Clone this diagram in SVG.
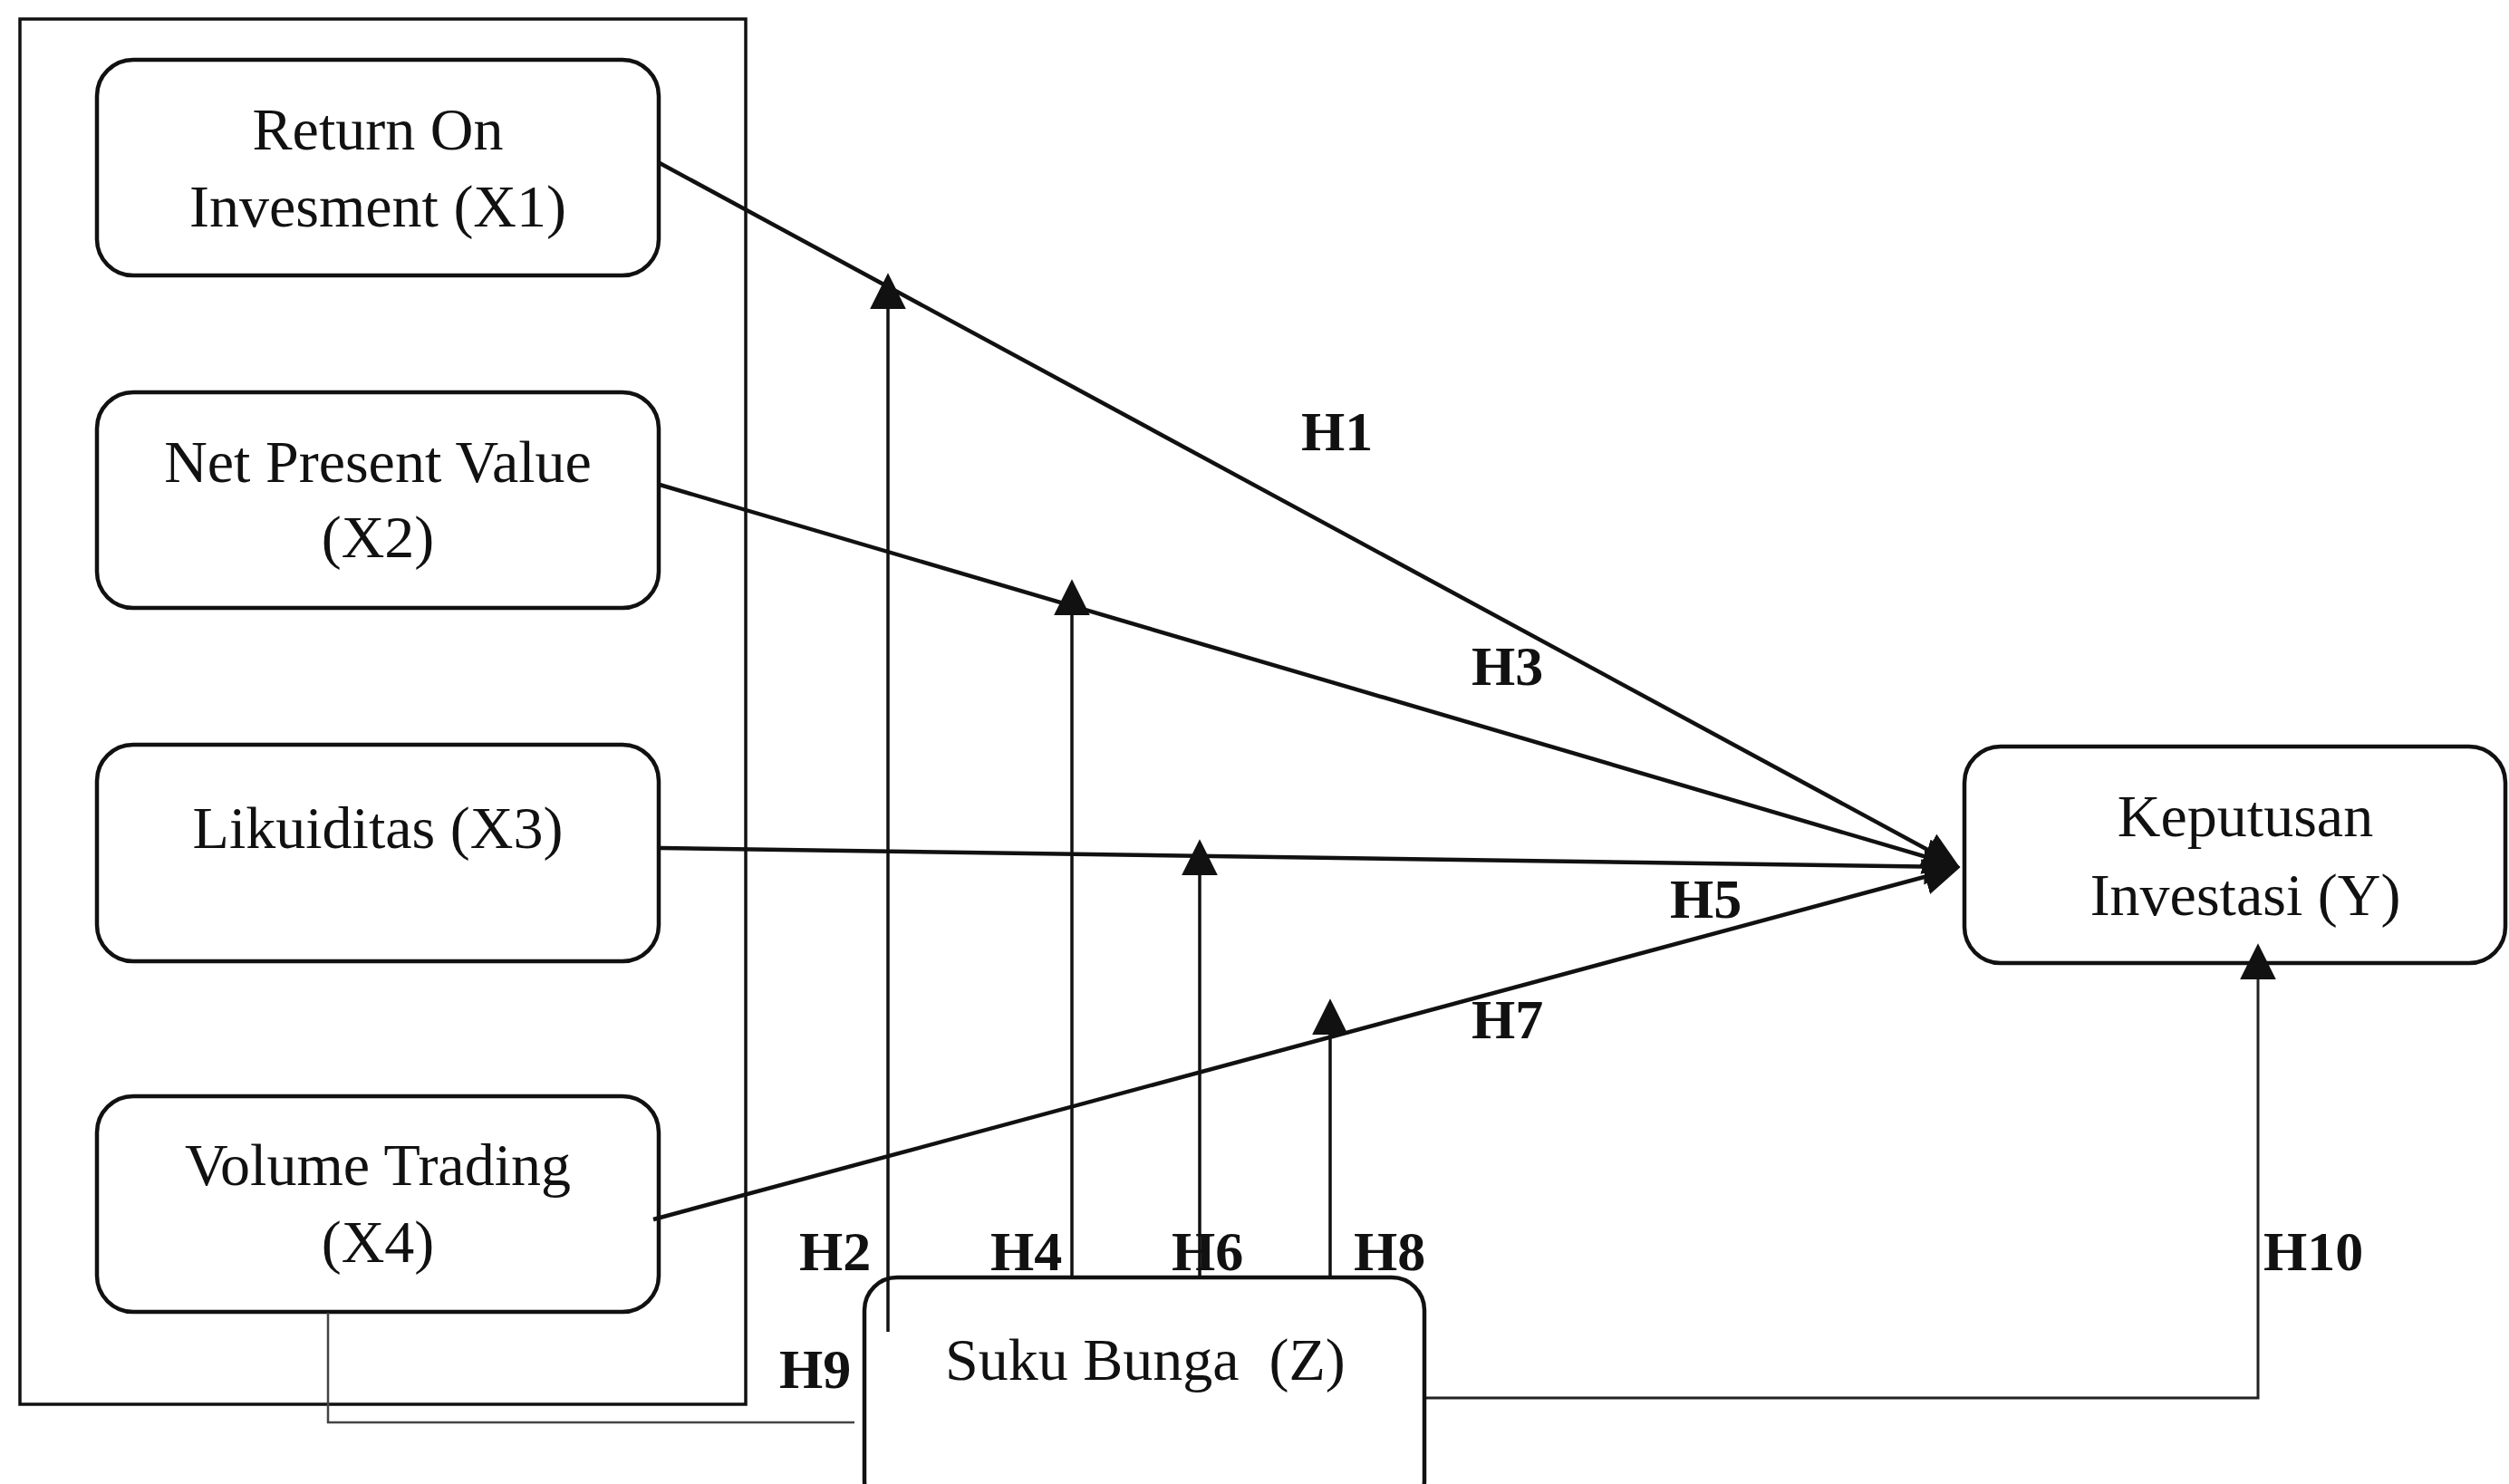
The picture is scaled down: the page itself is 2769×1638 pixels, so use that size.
<svg xmlns="http://www.w3.org/2000/svg" width="2769" height="1638" viewBox="0 0 2769 1638">
<style>
.box{fill:#fff;stroke:#111;stroke-width:4.5}
.frame{fill:none;stroke:#111;stroke-width:3.5}
.t{font-family:"Liberation Serif","Times New Roman",serif;font-size:66px;fill:#111;text-anchor:middle}
.lbl{font-family:"Liberation Serif","Times New Roman",serif;font-size:62px;font-weight:bold;fill:#111}
.ln{fill:none;stroke:#111;stroke-width:4.5}
.vl{fill:none;stroke:#111;stroke-width:3.5}
.thin{fill:none;stroke:#222;stroke-width:3}
.grey{fill:none;stroke:#444;stroke-width:2.5}
</style>
<defs>
<marker id="ah" markerUnits="userSpaceOnUse" markerWidth="40" markerHeight="40" viewBox="0 0 36 36" refX="30" refY="18" orient="auto">
<path d="M0,0 L36,18 L0,36 z" fill="#111"/>
</marker>
</defs>
<rect width="2769" height="1638" fill="#fff"/>

<g id="container">
<rect class="frame" x="22" y="21" width="801" height="1529"/>
</g>

<g id="node-x1">
<rect class="box" x="107" y="66" width="620" height="238" rx="40"/>
<text class="t" x="417" y="165">Return On</text>
<text class="t" x="417" y="250">Invesment (X1)</text>
</g>
<g id="node-x2">
<rect class="box" x="107" y="433" width="620" height="238" rx="40"/>
<text class="t" x="417" y="532">Net Present Value</text>
<text class="t" x="417" y="615">(X2)</text>
</g>
<g id="node-x3">
<rect class="box" x="107" y="822" width="620" height="239" rx="40"/>
<text class="t" x="417" y="936">Likuiditas (X3)</text>
</g>
<g id="node-x4">
<rect class="box" x="107" y="1210" width="620" height="238" rx="40"/>
<text class="t" x="417" y="1308">Volume Trading</text>
<text class="t" x="417" y="1393">(X4)</text>
</g>
<g id="node-y">
<rect class="box" x="2168" y="824" width="597" height="239" rx="40"/>
<text class="t" x="2478" y="923">Keputusan</text>
<text class="t" x="2478" y="1010">Investasi (Y)</text>
</g>

<g id="connectors">
<path class="ln" d="M728,180 L2157,954" marker-end="url(#ah)"/>
<path class="ln" d="M728,535 L2157,955" marker-end="url(#ah)"/>
<path class="ln" d="M728,936 L2157,957" marker-end="url(#ah)"/>
<path class="ln" d="M721,1346 L2157,959" marker-end="url(#ah)"/>
<path class="vl" d="M980,1470 L980,308" marker-end="url(#ah)"/>
<path class="vl" d="M1183,1410 L1183,646" marker-end="url(#ah)"/>
<path class="vl" d="M1324,1410 L1324,933" marker-end="url(#ah)"/>
<path class="vl" d="M1468,1410 L1468,1109" marker-end="url(#ah)"/>
<path class="thin" d="M1572,1543 L2492,1543 L2492,1048" marker-end="url(#ah)"/>
<path class="grey" d="M362,1449 L362,1570 L943,1570"/>
</g>

<g id="node-z">
<rect class="box" x="954" y="1410" width="618" height="260" rx="36" style="fill:none"/>
<text class="t" x="1043" y="1523" style="text-anchor:start;white-space:pre" xml:space="preserve">Suku Bunga  (Z)</text>
</g>

<g id="labels">
<text class="lbl" x="1436" y="497">H1</text>
<text class="lbl" x="1624" y="756">H3</text>
<text class="lbl" x="1843" y="1013">H5</text>
<text class="lbl" x="1624" y="1146">H7</text>
<text class="lbl" x="882" y="1402">H2</text>
<text class="lbl" x="1093" y="1402">H4</text>
<text class="lbl" x="1293" y="1402">H6</text>
<text class="lbl" x="1494" y="1402">H8</text>
<text class="lbl" x="2498" y="1402">H10</text>
<text class="lbl" x="860" y="1532">H9</text>
</g>
</svg>
